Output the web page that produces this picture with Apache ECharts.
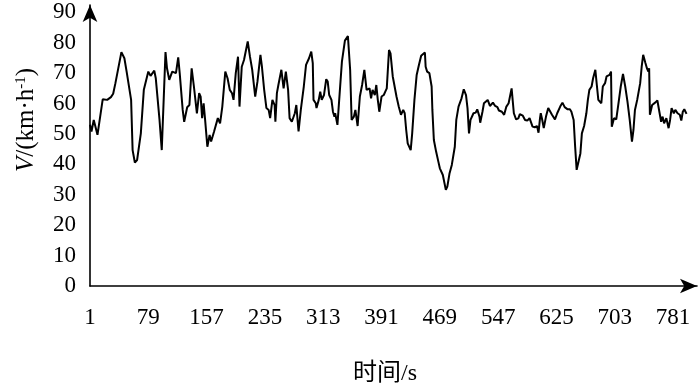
<!DOCTYPE html>
<html>
<head>
<meta charset="utf-8">
<script src="https://cdn.jsdelivr.net/npm/echarts@6/dist/echarts.min.js"></script>
<style>html,body{margin:0;padding:0;background:#fff}#c{width:700px;height:387px}</style>
</head>
<body>
<div id="c"></div>
<script>
// time (s) of each read vertex
const timeS = [1,3,6,11,18,24,29,32,35,43,47,50,52,56,58,61,64,69,73,79,82,87,89,94,97,99,102,104,107,111,116,119,121,125,127,131,134,137,140,144,147,149,151,153,155,158,161,163,167,172,175,178,182,185,188,191,193,196,199,201,204,207,212,215,218,222,225,229,231,234,237,240,242,245,248,249,251,253,257,260,263,266,268,271,275,277,280,283,287,290,294,297,299,300,303,304,307,309,311,314,317,319,321,324,326,328,329,332,335,338,342,346,348,349,351,354,356,359,362,365,368,371,375,377,379,382,384,386,388,391,394,396,398,401,403,406,411,414,417,420,422,424,426,430,432,435,438,441,444,449,450,452,455,458,459,461,464,467,469,473,475,477,479,482,485,487,489,491,494,498,501,504,506,508,510,514,517,519,522,523,526,528,533,536,540,543,546,548,552,555,558,561,565,568,571,574,576,580,583,586,589,590,593,596,599,601,603,604,606,608,611,614,616,619,623,626,630,633,636,640,643,645,648,650,652,654,657,659,662,665,667,669,672,674,677,679,681,685,687,690,692,696,698,699,702,705,708,711,714,717,720,723,726,728,730,733,737,739,741,744,746,748,749,750,753,755,757,760,762,765,767,769,772,775,777,779,782,784,787,790,792,794,796,799];
// speed V (km/h)
const speed = [53,50.8,54.6,49.7,61.4,61.2,62.1,63.2,66.7,76.9,74.9,70.5,70.2,61.2,44.7,40.6,41.4,50.2,64.5,70.5,69.1,70.8,68.3,54.6,44.7,45.3,76.9,71.6,67.8,70.5,70.0,75.2,70.0,57.9,54.0,58.8,59.5,71.6,65.6,56.8,63.4,62.3,55.2,60.1,54.6,45.8,49.7,47.5,50.8,55.2,53.5,59.0,70.5,68.3,64.5,63.4,61.2,70.0,75.4,59.0,72.1,74.3,80.4,75.4,71.1,62.3,67.2,76.0,72.1,64.5,58.5,57.9,55.2,61.2,59.5,54.0,63.4,66.1,71.1,65.0,70.5,64.5,55.2,54.0,56.8,59.5,50.8,57.9,65.6,72.7,74.9,77.1,73.3,61.2,60.1,58.5,61.2,63.9,61.2,62.8,68.0,67.2,62.8,61.2,57.3,55.7,56.8,53.0,63.4,73.8,80.7,82.2,82.0,71.1,54.6,55.7,57.9,52.6,62.3,66.1,71.1,64.5,65.0,61.7,64.5,62.8,66.1,61.2,57.3,62.3,62.8,63.9,65.0,77.6,76.5,68.9,62.3,59.0,56.3,57.9,56.8,51.3,46.9,44.7,50.2,61.2,69.4,72.7,75.7,76.8,72.1,70.5,70.0,65.6,57.9,48.0,44.2,40.9,38.7,36.5,36.0,31.6,32.7,37.1,39.8,40.1,45.8,54.6,59.0,61.7,64.7,62.8,58.5,50.2,54.6,56.8,57.0,58.1,55.7,53.7,57.3,60.1,61.2,59.2,60.3,59.2,58.8,57.7,57.3,56.3,59.0,60.1,65.0,56.8,54.8,55.1,56.5,56.0,54.6,54.4,55.2,54.6,52.4,52.2,52.6,50.4,55.2,56.8,54.6,51.9,55.7,58.5,58.8,56.3,54.8,56.8,59.0,60.3,58.8,58.1,58.1,57.3,54.6,45.8,38.2,38.7,43.6,50.2,52.6,56.8,61.2,64.5,65.6,68.3,71.1,66.1,61.2,60.1,65.6,66.7,68.9,69.4,70.5,52.4,55.2,54.8,60.1,65.6,69.7,65.6,60.6,54.6,47.5,51.3,57.9,61.2,66.7,72.1,76.0,73.3,71.6,70.5,71.6,56.3,59.5,59.2,60.3,61.0,60.6,54.0,55.7,53.5,55.2,51.9,54.6,58.5,56.8,57.9,56.8,56.3,54.4,57.3,58.1,56.6];
// tick labels
const xTickLabels = [1,79,157,235,313,391,469,547,625,703,781];
const yTickLabels = [0,10,20,30,40,50,60,70,80,90];
const xTitle = '时间/s';

const serif = "'Liberation Serif', 'Noto Sans CJK SC', serif";
const chart = echarts.init(document.getElementById('c'), null, {renderer: 'canvas'});
chart.setOption({
  animation: false,
  backgroundColor: '#fff',
  grid: {left: 90, right: 3, top: 5, bottom: 101},
  xAxis: {
    type: 'value', min: 1, max: 813, interval: 78,
    axisLine: {lineStyle: {color: '#000', width: 1.6}, symbol: ['none', 'arrow'], symbolSize: [11, 17]},
    axisTick: {show: false}, splitLine: {show: false},
    axisLabel: {color: '#000', fontFamily: serif, fontSize: 23, margin: 20, showMaxLabel: false,
      formatter: v => xTickLabels.indexOf(Math.round(v)) >= 0 ? String(Math.round(v)) : ''}
  },
  yAxis: {
    type: 'value', min: 0, max: 92.4, interval: 10,
    axisLine: {show: true, lineStyle: {color: '#000', width: 1.6}, symbol: ['none', 'arrow'], symbolSize: [11, 17]},
    axisTick: {show: false}, splitLine: {show: false},
    axisLabel: {color: '#000', fontFamily: serif, fontSize: 23, margin: 14, showMaxLabel: false,
      formatter: v => yTickLabels.indexOf(Math.round(v)) >= 0 ? String(Math.round(v)) : ''}
  },
  graphic: [
    {type: 'text', x: 385, y: 374, style: {text: xTitle, font: "24px " + serif, fill: '#000', align: 'center', verticalAlign: 'middle'}},
    {type: 'text', x: 26, y: 120, rotation: Math.PI / 2,
      style: {text: '{i|V}{n|/(km·h}{s|-1}{n|)}', align: 'center', verticalAlign: 'middle', fill: '#000',
        rich: {
          i: {fontFamily: serif, fontSize: 25, fontStyle: 'italic', fill: '#000'},
          n: {fontFamily: serif, fontSize: 25, fill: '#000'},
          s: {fontFamily: serif, fontSize: 15, fill: '#000', verticalAlign: 'top'}
        }}}
  ],
  series: [{
    type: 'line', showSymbol: false, symbol: 'none',
    lineStyle: {color: '#000', width: 2},
    data: timeS.map((t, i) => [t, speed[i]])
  }]
});
</script>
</body>
</html>
